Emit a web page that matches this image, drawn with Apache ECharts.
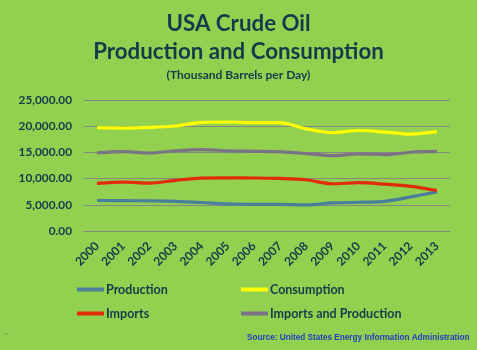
<!DOCTYPE html>
<html><head><meta charset="utf-8">
<script src="https://cdn.jsdelivr.net/npm/echarts@6/dist/echarts.min.js"></script>
<style>html,body{margin:0;padding:0;background:#92D050;}#c{width:477px;height:350px;}</style>
</head><body><div id="c"></div>
<script>
var years = ['2000','2001','2002','2003','2004','2005','2006','2007','2008','2009','2010','2011','2012','2013'];
var production = [5822,5801,5744,5649,5441,5184,5088,5077,5000,5353,5482,5656,6503,7454];
var consumption = [19701,19649,19761,20033,20731,20802,20687,20680,19498,18771,19180,18882,18490,18961];
var imports = [9071,9328,9140,9665,10088,10126,10118,10031,9783,9013,9213,8935,8527,7730];
var importsAndProduction = [14893,15129,14884,15314,15529,15310,15206,15108,14783,14366,14695,14591,15030,15184];
var yTicks = [0,5000,10000,15000,20000,25000];

var font = 'Lato';
var dark = '#173a4a';
var chart = echarts.init(document.getElementById('c'));
function lg(name, left, top){
  return {data:[name], left:left, top:top, itemWidth:27, itemHeight:4, itemGap:0, padding:0,
    icon:'rect', textStyle:{fontFamily:font,fontWeight:'bold',fontSize:12.5,color:dark,padding:[0,0,0,-3]}};
}
chart.setOption({
  backgroundColor:'#92D050',
  animation:false,
  title:[
    {text:'USA Crude Oil', left:'center', top:13, padding:0, textStyle:{fontFamily:font,fontWeight:'bold',fontSize:22.3,color:dark}},
    {text:'Production and Consumption', left:'center', top:41, padding:0, textStyle:{fontFamily:font,fontWeight:'bold',fontSize:22.3,color:dark}},
    {text:'(Thousand Barrels per Day)', left:'center', top:69, padding:0, textStyle:{fontFamily:font,fontWeight:'bold',fontSize:12,color:dark}}
  ],
  legend:[lg('Production',77,283), lg('Consumption',241,283), lg('Imports',77,307), lg('Imports and Production',241,307)],
  grid:{left:84,right:27,top:100,bottom:119},
  xAxis:{type:'category',data:years,boundaryGap:true,
    axisLine:{lineStyle:{color:'#868686'}},axisTick:{show:false},
    axisLabel:{rotate:45,interval:0,margin:13,fontFamily:font,fontWeight:'bold',fontSize:12,color:dark}},
  yAxis:{type:'value',min:yTicks[0],max:yTicks[yTicks.length-1],interval:5000,
    axisLine:{show:false},axisTick:{show:false},
    splitLine:{lineStyle:{color:'#868686',width:1}},
    axisLabel:{margin:12,fontFamily:font,fontWeight:'bold',fontSize:11.8,color:dark,
      formatter:function(v){return v.toLocaleString('en-US',{minimumFractionDigits:2,maximumFractionDigits:2});}}},
  series:[
    {name:'Production',type:'line',data:production,symbol:'none',smooth:0.3,lineStyle:{width:3.2,color:'#4A7F9C'},itemStyle:{color:'#4A7F9C'}},
    {name:'Consumption',type:'line',data:consumption,symbol:'none',smooth:0.3,lineStyle:{width:3.2,color:'#FFFF00'},itemStyle:{color:'#FFFF00'}},
    {name:'Imports',type:'line',data:imports,symbol:'none',smooth:0.3,lineStyle:{width:3.2,color:'#E02A08'},itemStyle:{color:'#E02A08'}},
    {name:'Imports and Production',type:'line',data:importsAndProduction,symbol:'none',smooth:0.3,lineStyle:{width:3.2,color:'#7B7286'},itemStyle:{color:'#7B7286'}}
  ],
  graphic:[
    {type:'text',left:247,top:334,style:{text:'Source: United States Energy Information Administration',fontFamily:'Liberation Sans',fontWeight:'bold',fontSize:8.2,fill:'#1F3FC0'}},
    {type:'text',left:5,top:329,style:{text:'..',fontSize:7,fill:'#333'}}
  ]
});
</script></body></html>
